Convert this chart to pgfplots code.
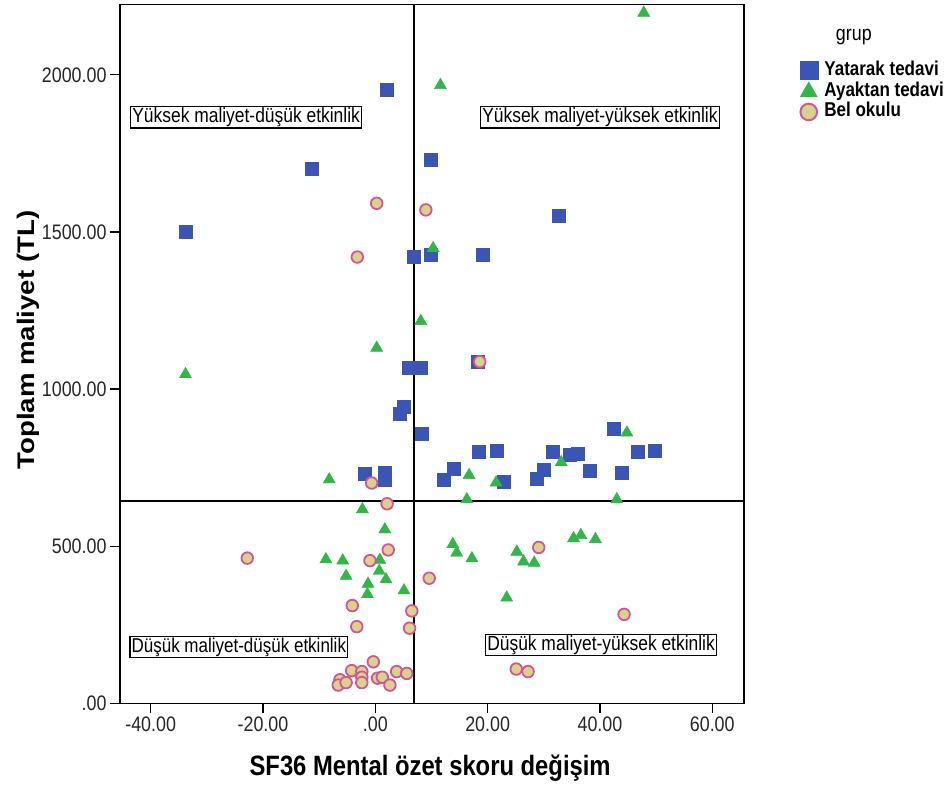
\documentclass[border=0pt]{standalone}
\usepackage{pgfplots}
\pgfplotsset{compat=1.18}
\usepackage{fontspec}
\setmainfont[FakeStretch=0.85]{Liberation Sans}
\newfontfamily\ylabfont[FakeStretch=1.15]{Liberation Sans}
\definecolor{cblue}{HTML}{3A55B4}
\definecolor{cgreen}{HTML}{33B54A}
\definecolor{cfill}{HTML}{D8D28C}
\definecolor{cedge}{HTML}{D2559A}
\begin{document}
\begin{tikzpicture}
\path[use as bounding box] (-120pt,-81.7pt) rectangle (827pt,703.3pt);
\begin{axis}[
  at={(0pt,0pt)}, anchor=south west,
  scale only axis, width=624pt, height=698.6pt,
  xmin=-45.46, xmax=65.65, ymin=0, ymax=2223,
  xtick={-40,-20,0,20,40,60},
  xticklabels={-40.00,-20.00,.00,20.00,40.00,60.00},
  ytick={0,500,1000,1500,2000},
  yticklabels={.00,500.00,1000.00,1500.00,2000.00},
  tick align=outside, major tick length=10pt,
  xtick pos=bottom, ytick pos=left,
  tick style={black, line width=1.2pt},
  axis line style={black, line width=1.4pt},
  ticklabel style={font=\fontsize{21}{21}\selectfont, text=black!85},
  xlabel={SF36 Mental özet skoru değişim},
  ylabel={Toplam maliyet (TL)},
  xlabel style={font=\bfseries\fontsize{28}{28}\selectfont, at={(axis description cs:0.497,-0.093)}, anchor=center},
  ylabel style={font=\ylabfont\bfseries\fontsize{24}{24}\selectfont, at={(axis description cs:-0.1474,0.52)}, anchor=center},
  clip=false,
  legend cell align=left,
  legend style={draw=none, fill=none, at={(axis description cs:1.089,0.919)}, anchor=north west,
    font=\bfseries\fontsize{20}{20}\selectfont, row sep=2.5pt, inner sep=0pt,
    nodes={inner sep=0pt, text height=13.5pt, text depth=4pt}},
  legend image code/.code={\draw[#1] plot coordinates {(9pt,0pt)};},
]
\addlegendimage{only marks, mark=square*, mark size=9pt, draw=cblue, fill=cblue}
\addlegendentry{\,\,Yatarak tedavi}
\addlegendimage{only marks, mark=triangle*, mark size=10pt, draw=cgreen, fill=cgreen}
\addlegendentry{\,\,Ayaktan tedavi}
\addlegendimage{only marks, mark=*, mark size=8.3pt, draw=cedge, fill=cfill, line width=2pt}
\addlegendentry{\,\,Bel okulu}

\draw[black, line width=2pt] (axis cs:6.89,0) -- (axis cs:6.89,2223);
\draw[black, line width=2pt] (axis cs:-45.46,644) -- (axis cs:65.65,644);

\addplot[forget plot, only marks, mark=square*, mark size=6.5pt, draw=cblue, fill=cblue] coordinates {
(2.0,1951) (-11.3,1700) (-33.8,1500) (9.9,1729) (32.7,1550) (6.8,1422) (9.9,1428) (19.2,1426)
(5.9,1068) (8.0,1068) (18.3,1087) (5.0,944) (4.4,923) (8.3,858) (-1.8,732) (1.7,734) (1.6,713)
(42.5,875) (18.4,800) (21.7,805) (31.6,802) (34.7,790) (36.1,793) (46.7,800) (49.8,803)
(14.0,748) (12.2,713) (22.8,704) (29.9,742) (28.7,716) (38.2,740) (43.9,735)
};
\addplot[forget plot, only marks, mark=triangle*, mark size=7pt, draw=cgreen, fill=cgreen] coordinates {
(47.8,2197) (11.6,1967) (10.3,1448) (8.1,1216) (0.25,1131) (-33.8,1047) (44.8,861) (33.1,767)
(16.7,726) (21.5,702) (-8.2,712) (16.3,649) (43.0,649) (-2.3,617) (1.7,553) (-8.8,458) (-5.8,454)
(0.8,456) (0.7,421) (-5.2,405) (1.9,394) (-1.3,380) (-1.4,347) (5.1,359) (13.8,506) (14.5,479)
(17.2,461) (25.2,482) (26.4,451) (28.3,447) (35.3,525) (36.6,535) (39.2,522) (23.4,336)
};
\addplot[forget plot, only marks, mark=*, mark size=5.8pt, draw=cedge, fill=cfill, line width=1.8pt] coordinates {
(0.25,1591) (-3.2,1420) (9.0,1570) (18.6,1087) (-0.65,701) (2.1,635) (2.3,488) (-22.8,462)
(-0.95,454) (-4.1,311) (6.5,294) (-3.3,244) (6.1,239) (9.6,398) (29.1,496) (44.3,283) (25.1,109)
(27.2,101) (-0.35,132) (-4.2,104) (-2.4,101) (-2.4,83) (-2.4,66) (-6.3,75) (-6.6,58) (-5.2,66)
(0.4,80) (1.25,83) (2.6,58) (3.8,101) (5.6,95)
};

\tikzset{qbox/.style={draw=black, line width=1.2pt, fill=white, inner sep=1.5pt, text height=14.5pt, text depth=4pt, font=\fontsize{20.5}{20.5}\selectfont}}
\node[qbox] at (axis cs:-23.0,1865) {Yüksek maliyet-düşük etkinlik};
\node[qbox] at (axis cs:40.0,1865) {Yüksek maliyet-yüksek etkinlik};
\node[qbox, font=\fontsize{20}{20}\selectfont] at (axis cs:-24.3,179) {Düşük maliyet-düşük etkinlik};
\node[qbox] at (axis cs:40.2,186) {Düşük maliyet-yüksek etkinlik};
\node[font=\fontsize{21}{21}\selectfont, anchor=center] at (axis description cs:1.176,0.953) {grup};
\end{axis}
\end{tikzpicture}
\end{document}
